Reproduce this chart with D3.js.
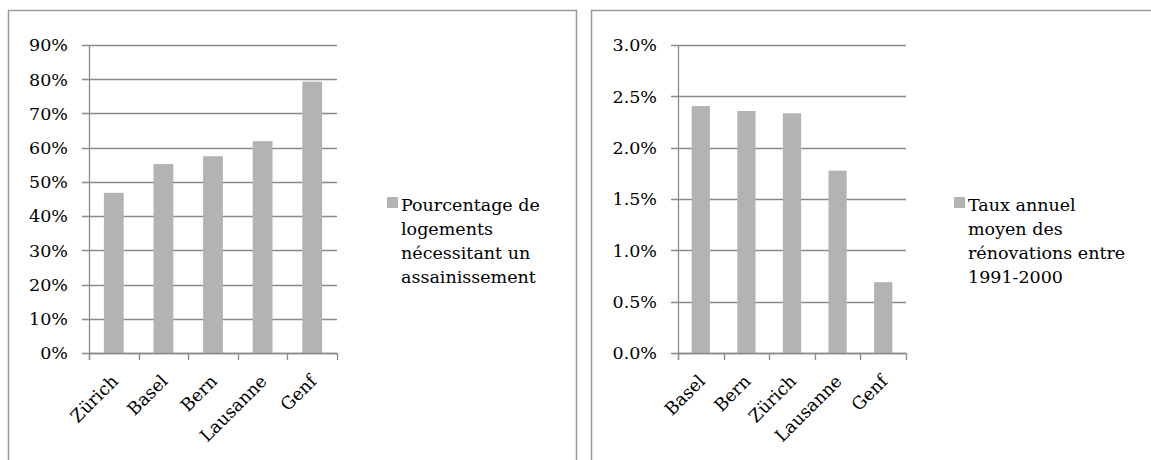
<!DOCTYPE html>
<html>
<head>
<meta charset="utf-8">
<script src="https://cdn.jsdelivr.net/npm/d3@7"></script>
<style>
  html, body { margin: 0; padding: 0; background: #fff; }
  svg { display: block; }
  text { font-family: "DejaVu Serif", "Liberation Serif", serif; fill: #000; }
</style>
</head>
<body>
<svg id="chart" width="1151" height="460"></svg>
<script>
// ---- data ----
const leftCategories = ["Zürich", "Basel", "Bern", "Lausanne", "Genf"];
const leftValues = [0.468, 0.552, 0.575, 0.619, 0.793];
const leftTicks = [0, 0.1, 0.2, 0.3, 0.4, 0.5, 0.6, 0.7, 0.8, 0.9];
const leftLegend = ["Pourcentage de", "logements", "nécessitant un", "assainissement"];

const rightCategories = ["Basel", "Bern", "Zürich", "Lausanne", "Genf"];
const rightValues = [0.02405, 0.02357, 0.02335, 0.01776, 0.0069];
const rightTicks = [0, 0.005, 0.01, 0.015, 0.02, 0.025, 0.03];
const rightLegend = ["Taux annuel", "moyen des", "rénovations entre", "1991-2000"];

const svg = d3.select("#chart");
const BAR = "#b3b3b3", GRID = "#8a8a8a", FRAME = "#9a9a9a";
const FS = 17.5;

function panel(opt) {
  // frame
  svg.append("rect")
    .attr("x", opt.frame[0] + 0.5).attr("y", 10.5)
    .attr("width", opt.frame[1]).attr("height", 500)
    .attr("fill", "none").attr("stroke", FRAME).attr("stroke-width", 1.5);

  const g = svg.append("g");
  const x = d3.scaleBand().domain(opt.categories)
    .range([opt.x0, opt.x1]).paddingInner(0.6).paddingOuter(0.3);
  const y = d3.scaleLinear().domain([0, opt.max]).range([353, 45]);

  // gridlines + y tick marks
  g.selectAll("line.grid").data(opt.ticks).join("line")
    .attr("x1", opt.x0 - 7).attr("x2", opt.x1)
    .attr("y1", d => Math.round(y(d)) + 0.5).attr("y2", d => Math.round(y(d)) + 0.5)
    .attr("stroke", GRID).attr("stroke-width", 1.3);

  // y labels
  g.selectAll("text.yl").data(opt.ticks).join("text")
    .attr("x", opt.x0 - 21).attr("y", d => y(d))
    .attr("dy", "0.36em").attr("text-anchor", "end")
    .attr("font-size", FS)
    .text(d => d3.format(opt.fmt)(d));

  // bars
  g.selectAll("rect.bar").data(opt.values).join("rect")
    .attr("x", (d, i) => x(opt.categories[i]))
    .attr("width", x.bandwidth())
    .attr("y", d => y(d)).attr("height", d => y(0) - y(d))
    .attr("fill", BAR);

  // y axis line
  g.append("line").attr("x1", opt.x0 + 0.5).attr("x2", opt.x0 + 0.5)
    .attr("y1", y(opt.max)).attr("y2", y(0) + 7)
    .attr("stroke", GRID).attr("stroke-width", 1.3);

  // x axis line
  g.append("line").attr("x1", opt.x0).attr("x2", opt.x1)
    .attr("y1", y(0) + 0.5).attr("y2", y(0) + 0.5)
    .attr("stroke", GRID).attr("stroke-width", 1.3);

  // x tick marks at category boundaries
  const step = x.step();
  const bounds = d3.range(opt.categories.length + 1).map(i => opt.x0 + i * step);
  g.selectAll("line.xt").data(bounds).join("line")
    .attr("x1", d => Math.round(d) + 0.5).attr("x2", d => Math.round(d) + 0.5)
    .attr("y1", y(0)).attr("y2", y(0) + 7)
    .attr("stroke", GRID).attr("stroke-width", 1.3);

  // x labels rotated
  g.selectAll("text.xl").data(opt.categories).join("text")
    .attr("transform", d => `translate(${x(d) + x.bandwidth() / 2 + 1},${378}) rotate(-45)`)
    .attr("text-anchor", "end").attr("dy", "0.35em")
    .attr("font-size", FS)
    .text(d => d);

  // legend
  svg.append("rect").attr("x", opt.legX).attr("y", 197)
    .attr("width", 11).attr("height", 11).attr("fill", BAR);
  svg.append("g").selectAll("text").data(opt.legend).join("text")
    .attr("x", opt.legX + 14).attr("y", (d, i) => 211 + i * 24)
    .attr("font-size", FS)
    .text(d => d);
}

panel({
  frame: [8, 568], categories: leftCategories, values: leftValues,
  ticks: leftTicks, max: 0.9, fmt: ".0%", x0: 89, x1: 337,
  legend: leftLegend, legX: 387
});
panel({
  frame: [591, 600], categories: rightCategories, values: rightValues,
  ticks: rightTicks, max: 0.03, fmt: ".1%", x0: 678, x1: 906,
  legend: rightLegend, legX: 954
});
</script>
</body>
</html>
